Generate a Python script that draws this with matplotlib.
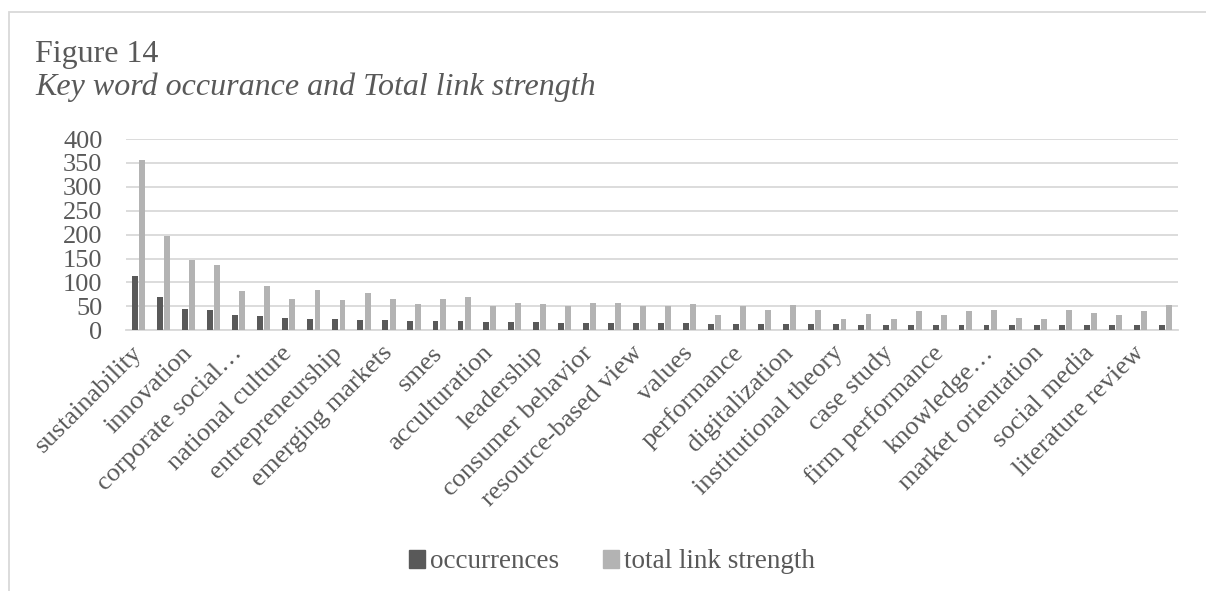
import numpy as np
import matplotlib
matplotlib.use("Agg")
import matplotlib.pyplot as plt
from matplotlib.patches import Rectangle, Patch

# keyword data (42 keywords, only every second label is shown in the chart)
shown_labels = ["sustainability", "innovation", "corporate social\u2026", "national culture",
                "entrepreneurship", "emerging markets", "smes", "acculturation", "leadership",
                "consumer behavior", "resource-based view", "values", "performance",
                "digitalization", "institutional theory", "case study", "firm performance",
                "knowledge\u2026", "market orientation", "social media", "literature review"]
occurrences = [113, 69, 45, 43, 33, 29, 25, 24, 23, 22, 21, 20, 20, 19, 17, 17, 17,
               15, 15, 15, 15, 15, 15, 13, 13, 13, 13, 13, 13,
               11, 11, 11, 11, 11, 11, 11, 11, 11, 11, 11, 11, 11]
link_strength = [357, 197, 147, 137, 82, 93, 66, 84, 63, 77, 66, 54, 66, 70, 50, 57, 55,
                 50, 58, 57, 50, 50, 55, 33, 50, 42, 52, 42, 23, 34, 23, 41, 31, 41,
                 43, 26, 23, 42, 36, 32, 40, 52]
yticks = [0, 50, 100, 150, 200, 250, 300, 350, 400]

W, H = 1206, 591
txt = "#595959"
dark = "#595959"
light = "#b3b3b3"
grid = "#d9d9d9"
plt.rcParams['font.family'] = ['Liberation Serif', 'DejaVu Serif']

fig = plt.figure(figsize=(W / 100, H / 100), dpi=100)
ax = fig.add_axes([126 / W, 1 - 330.3 / H, (1178 - 126) / W, (330.3 - 139) / H])

x = np.arange(len(occurrences))
bw = 0.235
ax.bar(x - 0.145, occurrences, bw, color=dark, zorder=3)
ax.bar(x + 0.145, link_strength, bw, color=light, zorder=3)

ax.set_xlim(-0.5, len(occurrences) - 0.5)
ax.set_ylim(0, 400)
ax.set_yticks(yticks)
ax.yaxis.grid(True, color=grid, lw=1.3, zorder=0)
for s in ["top", "right", "left"]:
    ax.spines[s].set_visible(False)
ax.spines["bottom"].set_color(grid)
ax.spines["bottom"].set_linewidth(1.3)
ax.tick_params(axis="y", length=0, pad=17, labelsize=19, labelcolor=txt)
ax.tick_params(axis="x", length=0, pad=14, labelsize=19, labelcolor=txt)
ax.set_xticks(x[::2])
ax.set_xticklabels(shown_labels, rotation=45, ha="right", va="center", rotation_mode="anchor")

fig.text(35 / W, 1 - 62 / H, "Figure 14", fontsize=23, color=txt, va="baseline")
fig.text(35 / W, 1 - 95 / H, "Key word occurance and Total link strength", fontsize=23,
         color=txt, style="italic", va="baseline")

handles = [Patch(color=dark, label="occurrences"), Patch(color=light, label="total link strength")]
fig.legend(handles=handles, loc="center", bbox_to_anchor=(612 / W, 1 - 562 / H), ncol=2,
           frameon=False, fontsize=19.5, handlelength=0.6, handleheight=0.6, handletextpad=0.2,
           columnspacing=1.6, labelcolor=txt)

fig.patches.append(Rectangle((9 / W, -0.1), 1.5, 1.1 - 12 / H, transform=fig.transFigure,
                             fill=False, edgecolor=grid, lw=1.3))

fig.savefig("out.png", dpi=100)
